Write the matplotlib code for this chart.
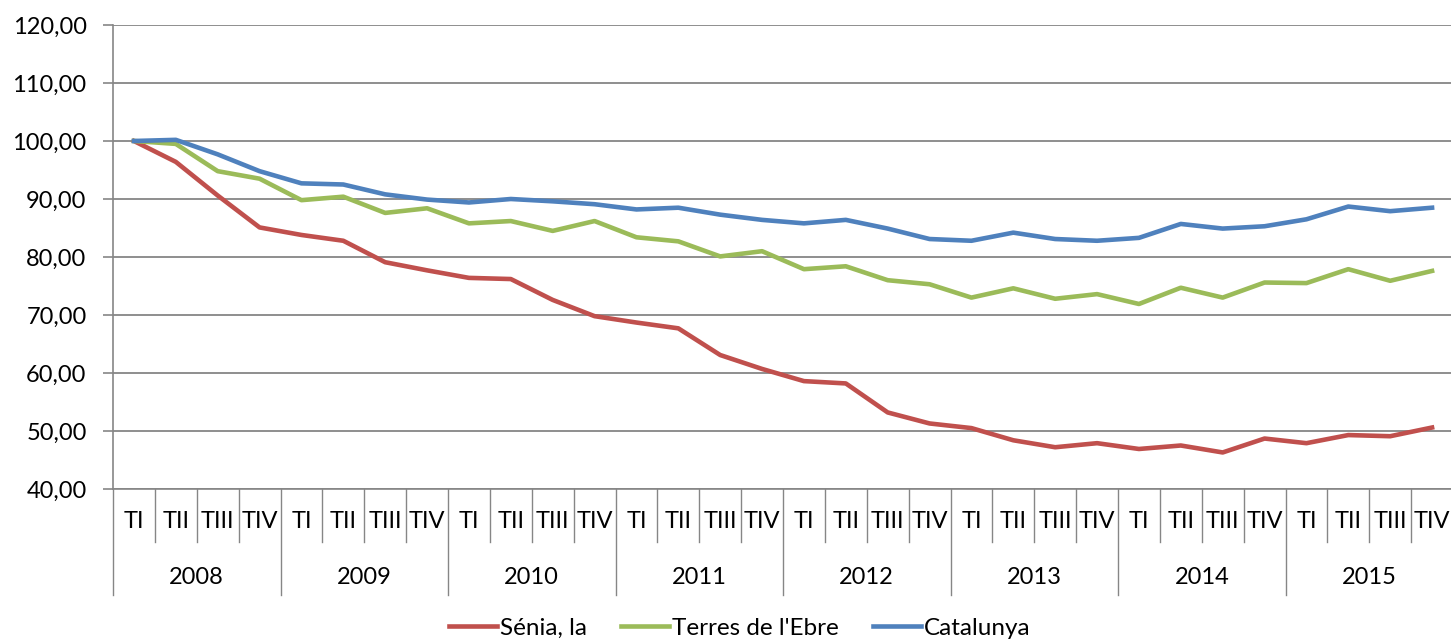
import numpy as np
import matplotlib.pyplot as plt
from matplotlib.transforms import blended_transform_factory

plt.rcParams['font.family'] = ['Lato', 'DejaVu Sans']

# Data
years = ['2008', '2009', '2010', '2011', '2012', '2013', '2014', '2015']
quarters = ['TI', 'TII', 'TIII', 'TIV']

senia = [100.0, 96.4, 90.6, 85.1, 83.8, 82.8, 79.1, 77.7,
         76.4, 76.2, 72.6, 69.8, 68.7, 67.7, 63.1, 60.7,
         58.6, 58.2, 53.2, 51.3, 50.5, 48.4, 47.2, 47.9,
         46.9, 47.5, 46.3, 48.7, 47.9, 49.3, 49.1, 50.6]
terres = [100.0, 99.5, 94.8, 93.5, 89.8, 90.4, 87.6, 88.4,
          85.8, 86.2, 84.5, 86.2, 83.4, 82.7, 80.1, 81.0,
          77.9, 78.4, 76.0, 75.3, 73.0, 74.6, 72.8, 73.6,
          71.9, 74.7, 73.0, 75.6, 75.5, 77.9, 75.9, 77.6]
catalunya = [100.0, 100.2, 97.7, 94.8, 92.7, 92.5, 90.8, 89.9,
             89.4, 90.0, 89.6, 89.1, 88.2, 88.5, 87.3, 86.4,
             85.8, 86.4, 84.9, 83.1, 82.8, 84.2, 83.1, 82.8,
             83.3, 85.7, 84.9, 85.3, 86.5, 88.7, 87.9, 88.5]

fs = 17
grey = '#868686'

fig = plt.figure(figsize=(14.51, 6.41), dpi=100)
ax = fig.add_axes([113 / 1451, 1 - 489 / 641, 1340 / 1451, 464 / 641])

x = np.arange(len(senia))
ax.plot(x, senia, color='#C0504D', lw=3.3, label='Sénia, la', solid_joinstyle='round')
ax.plot(x, terres, color='#9BBB59', lw=3.3, label="Terres de l'Ebre", solid_joinstyle='round')
ax.plot(x, catalunya, color='#4F81BD', lw=3.3, label='Catalunya', solid_joinstyle='round')

ax.set_xlim(-0.5, len(x) - 0.5)
ax.set_ylim(40, 120)
ax.set_yticks(np.arange(40, 121, 10))
ax.set_yticklabels([f'{v:.2f}'.replace('.', ',') for v in range(40, 121, 10)], fontsize=fs)
ax.yaxis.grid(True, color=grey, lw=1.3)
ax.set_axisbelow(True)
ax.tick_params(axis='y', length=7, width=1.2, color=grey, pad=12)
ax.set_xticks([])
for s in ['top', 'right']:
    ax.spines[s].set_visible(False)
ax.spines['left'].set_color(grey)
ax.spines['bottom'].set_color(grey)
ax.spines['left'].set_linewidth(1.2)
ax.spines['bottom'].set_linewidth(1.2)

# multi-level category axis
tr = blended_transform_factory(ax.transData, ax.transAxes)
for i in range(len(x)):
    ax.text(i, -0.071, quarters[i % 4], transform=tr, ha='center', va='center', fontsize=fs)
for k in range(len(x) + 1):
    bottom = -0.228 if k % 4 == 0 else -0.114
    ax.plot([k - 0.5, k - 0.5], [0, bottom], transform=tr, color=grey, lw=1.0, clip_on=False)
for j, yr in enumerate(years):
    ax.text(4 * j + 1.5, -0.191, yr, transform=tr, ha='center', va='center', fontsize=fs)

fig.legend(loc='center', bbox_to_anchor=(740 / 1451, 1 - 628 / 641), ncol=3, frameon=False,
           fontsize=fs + 0.5, handlelength=1.95, handletextpad=0.15, columnspacing=1.4)

fig.savefig('out.png', dpi=100)
